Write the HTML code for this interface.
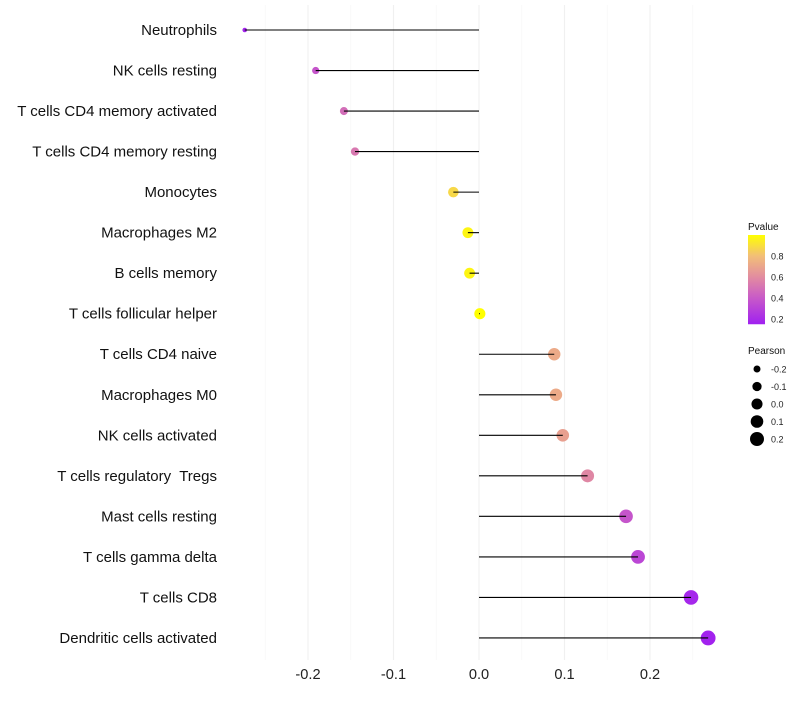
<!DOCTYPE html>
<html><head><meta charset="utf-8"><style>
body{margin:0;background:#fff;font-family:"Liberation Sans",sans-serif}
text{white-space:pre}
</style></head><body>
<svg id="chart" width="800" height="700" xmlns="http://www.w3.org/2000/svg">
<g id="grid"></g>
<g id="marks"></g>
<g id="ylab"></g>
<g id="xlab"></g>
<g id="legend"></g>
</svg>
<script>
const categories=["Neutrophils","NK cells resting","T cells CD4 memory activated","T cells CD4 memory resting","Monocytes","Macrophages M2","B cells memory","T cells follicular helper","T cells CD4 naive","Macrophages M0","NK cells activated","T cells regulatory  Tregs","Mast cells resting","T cells gamma delta","T cells CD8","Dendritic cells activated"];
const pearson=[-0.274,-0.191,-0.158,-0.145,-0.030,-0.013,-0.011,0.001,0.088,0.090,0.098,0.127,0.172,0.186,0.248,0.268];
const pvalue=[0.17,0.38,0.48,0.52,0.88,0.97,0.97,1.0,0.72,0.72,0.68,0.58,0.38,0.32,0.18,0.16];
const xTicks=[-0.2,-0.1,0.0,0.1,0.2];
const xTickLabels=["-0.2","-0.1","0.0","0.1","0.2"];
const pTicks=[0.2,0.4,0.6,0.8];
const sizeTicks=[-0.2,-0.1,0.0,0.1,0.2];

const NS="http://www.w3.org/2000/svg";
function X(v){return 479+v*855;}
function Y(i){return 30+i*40.53;}
function R(v){return 0.2+Math.sqrt(Math.max(2.5,28.5+v*88));}
function PY(p){return 319-(p-0.2)*105;}
const stops=[[0.15,[160,32,240]],[0.4,[200,90,200]],[0.6,[226,140,160]],[0.8,[242,190,120]],[1.0,[255,255,0]]];
function col(p){
  if(p<=stops[0][0])return "rgb("+stops[0][1]+")";
  for(let k=1;k<stops.length;k++){if(p<=stops[k][0]){const a=stops[k-1],b=stops[k];const t=(p-a[0])/(b[0]-a[0]);return "rgb("+a[1].map((c,j)=>Math.round(c+(b[1][j]-c)*t)).join(",")+")";}}
  return "rgb(255,255,0)";
}
function mk(tag,attrs,parent,text){const e=document.createElementNS(NS,tag);for(const k in attrs)e.setAttribute(k,attrs[k]);if(text!==undefined)e.textContent=text;parent.appendChild(e);return e;}
const grid=document.getElementById('grid'),marks=document.getElementById('marks'),ylab=document.getElementById('ylab'),xlab=document.getElementById('xlab'),legend=document.getElementById('legend');
for(let k=-5;k<=5;k++){
  const v=k*0.05;
  const g=mk('line',{x1:X(v),x2:X(v),y1:5,y2:660,stroke:k%2===0?'#f0f0f0':'#f6f6f6','stroke-width':k%2===0?1.1:0.7},grid);
  
  
}
categories.forEach((c,i)=>{
  const dot=mk('circle',{cx:X(pearson[i]),cy:Y(i),r:R(pearson[i]),fill:col(pvalue[i])},marks);
  
  
  const seg=mk('line',{x1:X(0),x2:X(pearson[i]),y1:Y(i),y2:Y(i),stroke:'#000','stroke-width':1.1},marks);
  
  
  const t=mk('text',{x:217,y:Y(i)+5,'text-anchor':'end','font-size':15,fill:'#111'},ylab,c);
  
  
});
xTicks.forEach((v,i)=>{
  const t=mk('text',{x:X(v),y:679,'text-anchor':'middle','font-size':14.6,fill:'#222'},xlab,xTickLabels[i]);
  
  
});
const lt=mk('text',{x:748,y:230,'font-size':10,fill:'#111'},legend,'Pvalue');


const defs=mk('defs',{},legend);
const lg=mk('linearGradient',{id:'pg',x1:0,y1:1,x2:0,y2:0},defs);
for(let p=0.15;p<=1.0001;p+=0.05){mk('stop',{offset:((p-0.15)/0.85),'stop-color':col(p)},lg);}
const bar=mk('rect',{x:748,y:PY(1.0),width:17,height:PY(0.15)-PY(1.0),fill:'url(#pg)'},legend);


pTicks.forEach(p=>{
  const t=mk('text',{x:771,y:PY(p)+3.5,'font-size':9,fill:'#222'},legend,p.toFixed(1));
  
  
});
const st=mk('text',{x:748,y:354,'font-size':10,fill:'#111'},legend,'Pearson');


sizeTicks.forEach((v,i)=>{
  const y=369+i*17.5;
  const c=mk('circle',{cx:757,cy:y,r:R(v),fill:'#000'},legend);
  
  
  const t=mk('text',{x:771,y:y+3.5,'font-size':9,fill:'#222'},legend,v.toFixed(1));
  
  
});
</script>
</body></html>
